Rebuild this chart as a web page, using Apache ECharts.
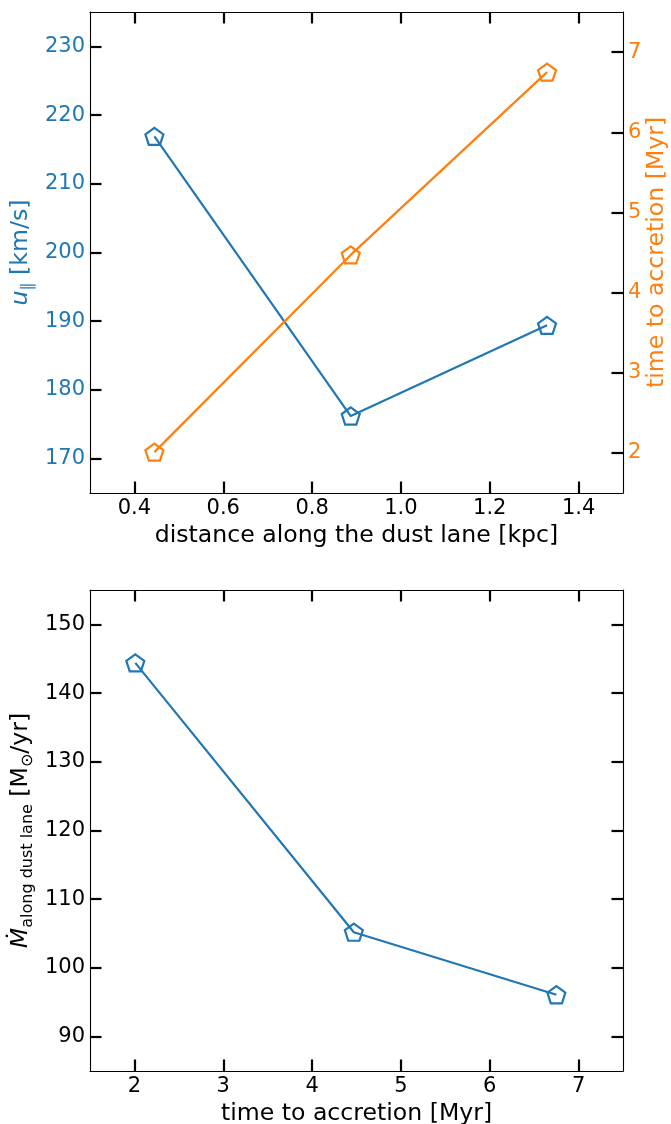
<!DOCTYPE html>
<html>
<head>
<meta charset="utf-8">
<script src="https://cdn.jsdelivr.net/npm/echarts@6/dist/echarts.min.js"></script>
<style>
  html, body { margin: 0; padding: 0; background: #fff; }
  #chart { width: 671px; height: 1124px; }
</style>
</head>
<body>
<div id="chart"></div>
<script>
// values
const distanceKpc = [0.445, 0.887, 1.329];
const uParallel = [216.9, 176.2, 189.4];
const timeToAccretion = [2.01, 4.47, 6.75];
const mdotLane = [144.4, 105.2, 96.1];

const distTicks = [0.4, 0.6, 0.8, 1.0, 1.2, 1.4];
const uTicks = [170, 180, 190, 200, 210, 220, 230];
const timeTicks = [2, 3, 4, 5, 6, 7];
const mdotTicks = [90, 100, 110, 120, 130, 140, 150];

const BLUE = "#1f77b4";
const ORANGE = "#ff7f0e";
const FONT = "DejaVu Sans";
const TICK_FS = 21;
const LABEL_FS = 23.6;

// pentagon marker like matplotlib 'p'
const PENTAGON = "path://M0,-1 L0.951,-0.309 L0.588,0.809 L-0.588,0.809 L-0.951,-0.309 Z";

function pairs(xs, ys) {
  return xs.map((x, i) => [x, ys[i]]);
}

// common look of every axis (box frame, inward ticks, no grid)
function axisBase(o) {
  let a = {
    type: "value",
    min: o.min,
    max: o.max,
    nameMoveOverlap: false,
    axisLine: { show: true, onZero: false, lineStyle: { color: "#000", width: 1.1 } },
    axisTick: { show: true, inside: true, length: 11.5, lineStyle: { color: "#000", width: 2.2 }, customValues: o.ticks },
    splitLine: { show: false },
    axisLabel: {
      show: o.labels !== false,
      customValues: o.ticks,
      margin: o.margin || 6,
      color: o.color || "#000",
      fontFamily: FONT,
      fontSize: TICK_FS,
      formatter: o.fmt || (v => String(v))
    }
  };
  return Object.assign(a, o.extra || {});
}

const nameStyleBase = {
  fontFamily: FONT,
  fontSize: LABEL_FS,
  color: "#000"
};

function richName(color) {
  return {
    i: { fontFamily: FONT, fontSize: LABEL_FS, fontStyle: "italic", color: color, lineHeight: 30, verticalAlign: "middle" },
    s: { fontFamily: FONT, fontSize: 16, color: color, lineHeight: 30, verticalAlign: "bottom" },
    r: { fontFamily: FONT, fontSize: LABEL_FS, color: color, lineHeight: 30, verticalAlign: "middle" }
  };
}

function markerSeries(name, xi, yi, data, color) {
  return {
    name: name,
    type: "line",
    xAxisIndex: xi,
    yAxisIndex: yi,
    data: data,
    symbol: PENTAGON,
    symbolKeepAspect: true,
    symbolSize: 18,
    lineStyle: { color: color, width: 2.2 },
    itemStyle: { color: "rgba(0,0,0,0)", borderColor: color, borderWidth: 2.2 }
  };
}

let option = {
  animation: false,
  backgroundColor: "#fff",
  grid: [
    { left: 90, top: 12, width: 533, height: 481, containLabel: false, outerBoundsMode: "none" },
    { left: 90, top: 590, width: 533, height: 481, containLabel: false, outerBoundsMode: "none" }
  ],
  xAxis: [
    axisBase({ min: 0.3, max: 1.5, ticks: distTicks, fmt: v => v.toFixed(1), margin: 5,
      extra: { gridIndex: 0, position: "bottom", name: "distance along the dust lane [kpc]",
        nameLocation: "middle", nameGap: 31, nameTextStyle: nameStyleBase } }),
    axisBase({ min: 0.3, max: 1.5, ticks: distTicks, labels: false,
      extra: { gridIndex: 0, position: "top" } }),
    axisBase({ min: 1.5, max: 7.5, ticks: timeTicks, margin: 5,
      extra: { gridIndex: 1, position: "bottom", name: "time to accretion [Myr]",
        nameLocation: "middle", nameGap: 31, nameTextStyle: nameStyleBase } }),
    axisBase({ min: 1.5, max: 7.5, ticks: timeTicks, labels: false,
      extra: { gridIndex: 1, position: "top" } })
  ],
  yAxis: [
    axisBase({ min: 165, max: 235, ticks: uTicks, color: BLUE, margin: 5,
      extra: { gridIndex: 0, position: "left",
        name: "{i|u}{s|∥}{r| [km/s]}", nameLocation: "middle", nameRotate: 90, nameGap: 54,
        nameTextStyle: Object.assign({}, nameStyleBase, { color: BLUE, rich: richName(BLUE) }) } }),
    axisBase({ min: 1.5, max: 7.5, ticks: timeTicks, color: ORANGE, margin: 5,
      extra: { gridIndex: 0, position: "right",
        name: "time to accretion [Myr]", nameLocation: "middle", nameRotate: 90, nameGap: 22,
        nameTextStyle: Object.assign({}, nameStyleBase, { color: ORANGE }) } }),
    axisBase({ min: 85, max: 155, ticks: mdotTicks, margin: 5,
      extra: { gridIndex: 1, position: "left",
        name: "{i|Ṁ}{s|along dust lane}{r| [M}{s|⊙}{r|/yr]}", nameLocation: "middle", nameRotate: 90, nameGap: 54,
        nameTextStyle: Object.assign({}, nameStyleBase, { rich: richName("#000") }) } }),
    axisBase({ min: 85, max: 155, ticks: mdotTicks, labels: false,
      extra: { gridIndex: 1, position: "right" } })
  ],
  series: [
    markerSeries("u_par", 0, 0, pairs(distanceKpc, uParallel), BLUE),
    markerSeries("t_acc", 0, 1, pairs(distanceKpc, timeToAccretion), ORANGE),
    markerSeries("mdot", 2, 2, pairs(timeToAccretion, mdotLane), BLUE)
  ]
};

let chart = echarts.init(document.getElementById("chart"));
chart.setOption(option);
</script>
</body>
</html>
